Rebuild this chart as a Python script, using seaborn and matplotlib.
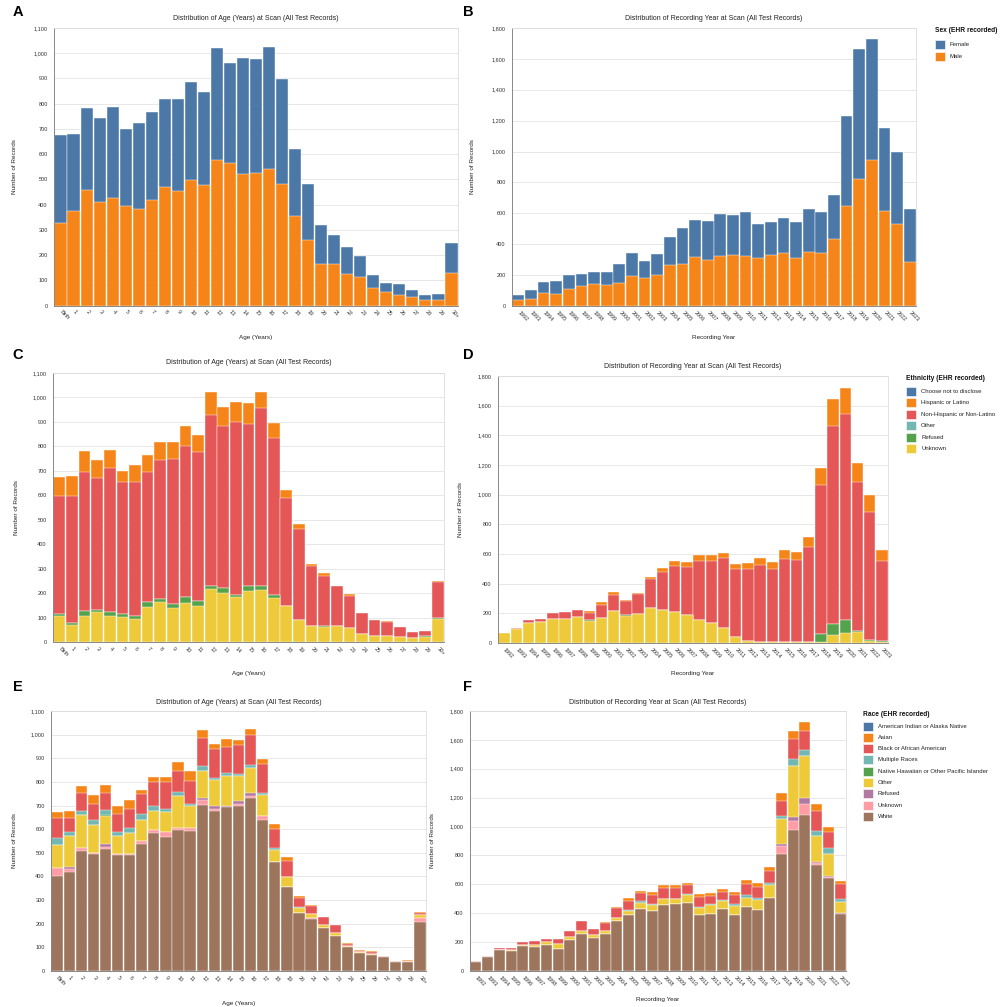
import numpy as np
import pandas as pd
import matplotlib
matplotlib.use("Agg")
import matplotlib.pyplot as plt
from matplotlib.patches import Rectangle
import seaborn as sns

# ---------------- data ----------------
ages = ["Birth", "1", "2", "3", "4", "5", "6", "7", "8", "9", "10", "11", "12", "13", "14",
        "15", "16", "17", "18", "19", "20", "21", "22", "23", "24", "25", "26", "27", "28",
        "29", "30+"]
years = ["1992", "1993", "1994", "1995", "1996", "1997", "1998", "1999", "2000", "2001",
         "2002", "2003", "2004", "2005", "2006", "2007", "2008", "2009", "2010", "2011",
         "2012", "2013", "2014", "2015", "2016", "2017", "2018", "2019", "2020", "2021",
         "2022", "2023"]

sex_labels = ["Female", "Male"]
age_female = [346, 303, 324, 333, 358, 307, 341, 346, 350, 364, 386, 369, 444, 398, 460, 455,
              483, 416, 266, 221, 155, 116, 106, 82, 49, 37, 44, 28, 22, 23, 118]
age_male = [328, 375, 458, 412, 428, 393, 384, 420, 469, 455, 498, 477, 577, 563, 521, 524,
            541, 480, 355, 261, 163, 165, 124, 114, 71, 53, 41, 34, 20, 23, 130]
year_female = [28, 57, 70, 80, 89, 77, 78, 83, 124, 148, 107, 132, 181, 237, 240, 249, 268, 257,
               284, 219, 214, 230, 235, 280, 271, 286, 582, 840, 784, 543, 465, 338]
year_male = [41, 45, 87, 80, 112, 132, 143, 134, 151, 197, 184, 203, 264, 270, 316, 299, 325,
             333, 325, 312, 327, 340, 309, 348, 340, 431, 647, 822, 943, 612, 530, 288]

eth_labels = ["Choose not to disclose", "Hispanic or Latino", "Non-Hispanic or Non-Latino",
              "Other", "Refused", "Unknown"]
age_eth_choose = [0] * 31
age_eth_hispanic = [78, 82, 85, 76, 75, 45, 71, 70, 74, 70, 82, 71, 93, 79, 80, 86, 69, 61, 31,
                    21, 7, 11, 2, 6, 0, 1, 2, 0, 0, 0, 2]
age_eth_nonhisp = [481, 520, 571, 539, 587, 539, 548, 534, 571, 595, 620, 606, 697, 662, 707, 664,
                   727, 641, 441, 371, 245, 203, 161, 133, 87, 64, 57, 41, 27, 22, 149]
age_eth_other = [0] * 31
age_eth_refused = [10, 8, 20, 7, 18, 14, 10, 20, 10, 13, 22, 23, 15, 19, 8, 22, 15, 15, 3, 1, 0,
                   6, 0, 0, 0, 0, 0, 0, 0, 2, 4]
age_eth_unknown = [105, 68, 106, 123, 106, 102, 96, 142, 164, 141, 160, 146, 216, 201, 186, 207,
                   213, 179, 146, 89, 66, 61, 67, 57, 33, 25, 26, 22, 15, 22, 93]

year_eth_choose = [0] * 32
year_eth_hispanic = [0, 0, 0, 1, 0, 1, 1, 15, 19, 22, 6, 3, 15, 25, 40, 39, 37, 36, 35, 33, 39,
                     41, 42, 63, 51, 69, 115, 182, 176, 131, 121, 71]
year_eth_nonhisp = [2, 8, 20, 20, 37, 44, 45, 45, 88, 106, 97, 137, 197, 258, 305, 321, 399, 417,
                    475, 458, 489, 522, 498, 561, 553, 638, 1006, 1334, 1392, 1007, 858, 540]
year_eth_other = [0] * 32
year_eth_refused = [0, 0, 0, 0, 0, 0, 0, 7, 0, 0, 6, 0, 0, 0, 0, 0, 0, 0, 0, 0, 0, 0, 0, 0, 3, 3,
                    54, 77, 85, 4, 9, 10]
year_eth_unknown = [67, 94, 137, 139, 164, 164, 175, 150, 168, 217, 182, 195, 233, 224, 211, 188,
                    157, 137, 99, 40, 13, 7, 4, 4, 4, 4, 7, 54, 69, 74, 13, 5]

race_labels = ["American Indian or Alaska Native", "Asian", "Black or African American",
               "Multiple Races", "Native Hawaiian or Other Pacific Islander", "Other", "Refused",
               "Unknown", "White"]
age_race_aian = [0] * 31
age_race_asian = [28, 29, 29, 40, 33, 36, 40, 19, 21, 18, 39, 42, 37, 22, 32, 24, 27, 22, 20, 17,
                  11, 5, 3, 3, 4, 4, 5, 0, 0, 2, 1]
age_race_black = [85, 60, 76, 68, 72, 77, 81, 83, 101, 116, 86, 99, 117, 121, 113, 120, 125, 121,
                  82, 66, 35, 35, 31, 31, 9, 4, 8, 3, 4, 5, 10]
age_race_multi = [28, 19, 19, 21, 21, 17, 19, 24, 20, 11, 18, 7, 19, 12, 12, 10, 14, 10, 7, 3, 4,
                  0, 0, 0, 0, 0, 0, 0, 0, 0, 0]
age_race_nhpi = [0, 0, 0, 0, 6, 0, 0, 0, 0, 0, 0, 0, 0, 0, 0, 0, 0, 0, 0, 0, 0, 0, 0, 0, 0, 0, 0,
                 0, 0, 0, 0]
age_race_other = [97, 130, 138, 115, 118, 74, 91, 90, 80, 85, 134, 94, 116, 109, 127, 106, 106, 89,
                  49, 39, 24, 18, 15, 13, 4, 4, 3, 0, 0, 0, 14]
age_race_refused = [2, 8, 0, 0, 10, 0, 0, 0, 0, 2, 1, 0, 7, 10, 5, 14, 10, 0, 0, 0, 0, 0, 0, 0, 0,
                    0, 0, 0, 0, 0, 0]
age_race_unknown = [34, 12, 12, 7, 8, 7, 5, 14, 13, 20, 8, 10, 21, 12, 0, 7, 9, 17, 3, 0, 0, 4, 0,
                    0, 0, 0, 0, 0, 0, 0, 17]
age_race_white = [400, 420, 508, 494, 518, 489, 489, 536, 584, 567, 598, 594, 704, 675, 692, 698,
                  733, 637, 460, 357, 244, 219, 181, 149, 103, 78, 69, 59, 38, 39, 206]

year_race_aian = [0] * 32
year_race_asian = [0, 0, 0, 0, 0, 2, 0, 0, 2, 0, 0, 2, 9, 21, 18, 19, 19, 17, 16, 19, 22, 23, 16,
                   27, 27, 27, 52, 56, 63, 46, 36, 22]
year_race_black = [4, 6, 13, 12, 25, 25, 21, 34, 39, 67, 46, 55, 70, 64, 55, 66, 74, 74, 62, 69,
                   56, 58, 67, 74, 79, 81, 108, 137, 134, 139, 104, 102]
year_race_multi = [0, 0, 0, 0, 0, 0, 0, 0, 0, 0, 0, 0, 0, 5, 12, 3, 0, 0, 3, 5, 9, 7, 14, 25, 14,
                   14, 21, 53, 42, 37, 44, 23]
year_race_nhpi = [0] * 32
year_race_other = [0, 2, 0, 7, 5, 17, 23, 30, 19, 26, 21, 24, 20, 32, 41, 46, 44, 37, 55, 53, 62,
                   51, 62, 63, 69, 88, 171, 351, 289, 179, 154, 78]
year_race_refused = [0, 0, 0, 0, 0, 0, 0, 0, 0, 0, 0, 0, 0, 0, 0, 0, 0, 0, 0, 0, 0, 0, 0, 0, 0, 0,
                     16, 25, 44, 3, 3, 3]
year_race_unknown = [0, 0, 0, 0, 0, 0, 0, 0, 0, 0, 0, 0, 0, 0, 0, 0, 0, 0, 0, 0, 0, 0, 0, 0, 0, 0,
                     51, 67, 76, 14, 7, 4]
year_race_white = [65, 94, 144, 141, 173, 166, 178, 155, 217, 254, 226, 256, 347, 386, 430, 414,
                   457, 464, 474, 386, 393, 432, 386, 441, 423, 508, 811, 973, 1079, 737, 647, 393]

sex_colors = ["#4c78a8", "#f58518"]
eth_colors = ["#4c78a8", "#f58518", "#e45756", "#72b7b2", "#54a24b", "#eeca3b"]
race_colors = ["#4c78a8", "#f58518", "#e45756", "#72b7b2", "#54a24b", "#eeca3b", "#b279a2",
               "#ff9da6", "#9d755d"]

# ---------------- figure ----------------
sns.set_style("white")
plt.rcParams["font.family"] = ["Liberation Sans", "DejaVu Sans"]

W, H = 1000, 1007
fig = plt.figure(figsize=(W / 100, H / 100), dpi=100)
fig.patch.set_facecolor("white")

AGE_TITLE = "Distribution of Age (Years) at Scan (All Test Records)"
YEAR_TITLE = "Distribution of Recording Year at Scan (All Test Records)"


def fx(x):
    return x / W


def fy(y):
    return 1 - y / H


def panel(box, cats, layers_top_down, colors, ymax, ystep, title, xlabel, letter,
          letter_xy, title_y, ylabel_x, xlabel_y):
    l, t, r, b = box
    ax = fig.add_axes([fx(l), fy(b), (r - l) / W, (b - t) / H])
    # stack: last category at the bottom
    layers = [np.array(v, dtype=float) for v in layers_top_down][::-1]
    cols = list(colors)[::-1]
    cum = np.cumsum(np.vstack(layers), axis=0)
    for i in range(len(layers) - 1, -1, -1):
        df = pd.DataFrame({"cat": cats, "val": cum[i]})
        sns.barplot(data=df, x="cat", y="val", order=cats, color=cols[i], saturation=1,
                    width=0.93, edgecolor="white", linewidth=0.3, ax=ax, errorbar=None)
    n = len(cats)
    ax.set_xlim(-0.5, n - 0.5)
    ax.set_ylim(0, ymax)
    ticks = np.arange(0, ymax + 1, ystep)
    ax.set_yticks(ticks)
    ax.set_yticklabels([f"{int(v):,}" for v in ticks])
    ax.set_xticks(range(n))
    ax.set_xticklabels(cats)
    ax.grid(axis="y", color="#e3e3e3", linewidth=0.6)
    ax.grid(axis="x", visible=False)
    ax.set_axisbelow(True)
    for s in ["top", "right"]:
        ax.spines[s].set_color("#dddddd")
        ax.spines[s].set_linewidth(0.6)
    for s in ["left", "bottom"]:
        ax.spines[s].set_color("#888888")
        ax.spines[s].set_linewidth(0.7)
    ax.tick_params(axis="both", direction="out", length=3, width=0.6, color="#888888",
                   labelsize=4, labelcolor="#333333", pad=1.5)
    ax.tick_params(axis="x", pad=1.0)
    for lab in ax.get_xticklabels():
        lab.set_rotation(-45)
        lab.set_ha("left")
        lab.set_va("center")
        lab.set_rotation_mode("anchor")
    ax.set_xlabel(xlabel, fontsize=4.6, color="#222222")
    ax.set_ylabel("Number of Records", fontsize=4.6, color="#222222")
    ax.yaxis.set_label_coords((ylabel_x - l) / (r - l), 0.5)
    ax.xaxis.set_label_coords(0.5, (b - xlabel_y) / (b - t))
    ax.xaxis.label.set_va("center")
    ax.yaxis.label.set_va("center")
    fig.text(fx((l + r) / 2), fy(title_y), title, ha="center", va="center", fontsize=5,
             color="#222222")
    fig.text(fx(letter_xy[0]), fy(letter_xy[1]), letter, ha="center", va="center",
             fontsize=10.5, fontweight="bold", color="black")
    return ax


def legend(x, y_title, y0, dy, title, labels, colors):
    fig.text(fx(x), fy(y_title), title, ha="left", va="center", fontsize=4.8,
             fontweight="bold", color="#111111")
    for i, (lab, col) in enumerate(zip(labels, colors)):
        yc = y0 + i * dy
        fig.patches.append(Rectangle((fx(x), fy(yc + 4.5)), 9.5 / W, 9 / H,
                                     transform=fig.transFigure, facecolor=col,
                                     edgecolor="white", linewidth=0.4))
        fig.text(fx(x + 15), fy(yc), lab, ha="left", va="center", fontsize=4.3,
                 color="#222222")


# Row 1: sex
panel((54, 28, 458, 305.5), ages, [age_female, age_male], sex_colors, 1100, 100,
      AGE_TITLE, "Age (Years)", "A", (18, 12), 18, 15, 338)
panel((512, 28, 916, 306), years, [year_female, year_male], sex_colors, 1800, 200,
      YEAR_TITLE, "Recording Year", "B", (468, 12), 18, 473, 337)
legend(935, 31, 44, 12.5, "Sex (EHR recorded)", sex_labels, sex_colors)

# Row 2: ethnicity
panel((53, 373, 444, 642), ages,
      [age_eth_choose, age_eth_hispanic, age_eth_nonhisp, age_eth_other, age_eth_refused,
       age_eth_unknown], eth_colors, 1100, 100,
      AGE_TITLE, "Age (Years)", "C", (18, 355), 363, 17, 674)
panel((498, 376, 888, 643), years,
      [year_eth_choose, year_eth_hispanic, year_eth_nonhisp, year_eth_other, year_eth_refused,
       year_eth_unknown], eth_colors, 1800, 200,
      YEAR_TITLE, "Recording Year", "D", (468, 355), 366, 461, 673)
legend(906, 378, 391.5, 11.4, "Ethnicity (EHR recorded)", eth_labels, eth_colors)

# Row 3: race
panel((51, 711, 426, 971), ages,
      [age_race_aian, age_race_asian, age_race_black, age_race_multi, age_race_nhpi,
       age_race_other, age_race_refused, age_race_unknown, age_race_white], race_colors,
      1100, 100, AGE_TITLE, "Age (Years)", "E", (18, 687), 702, 15, 1003)
panel((470, 711, 846, 971), years,
      [year_race_aian, year_race_asian, year_race_black, year_race_multi, year_race_nhpi,
       year_race_other, year_race_refused, year_race_unknown, year_race_white], race_colors,
      1800, 200, YEAR_TITLE, "Recording Year", "F", (468, 687), 702, 433, 999)
legend(863, 714, 726, 11.3, "Race (EHR recorded)", race_labels, race_colors)

fig.savefig("out.png", dpi=100, facecolor="white")
